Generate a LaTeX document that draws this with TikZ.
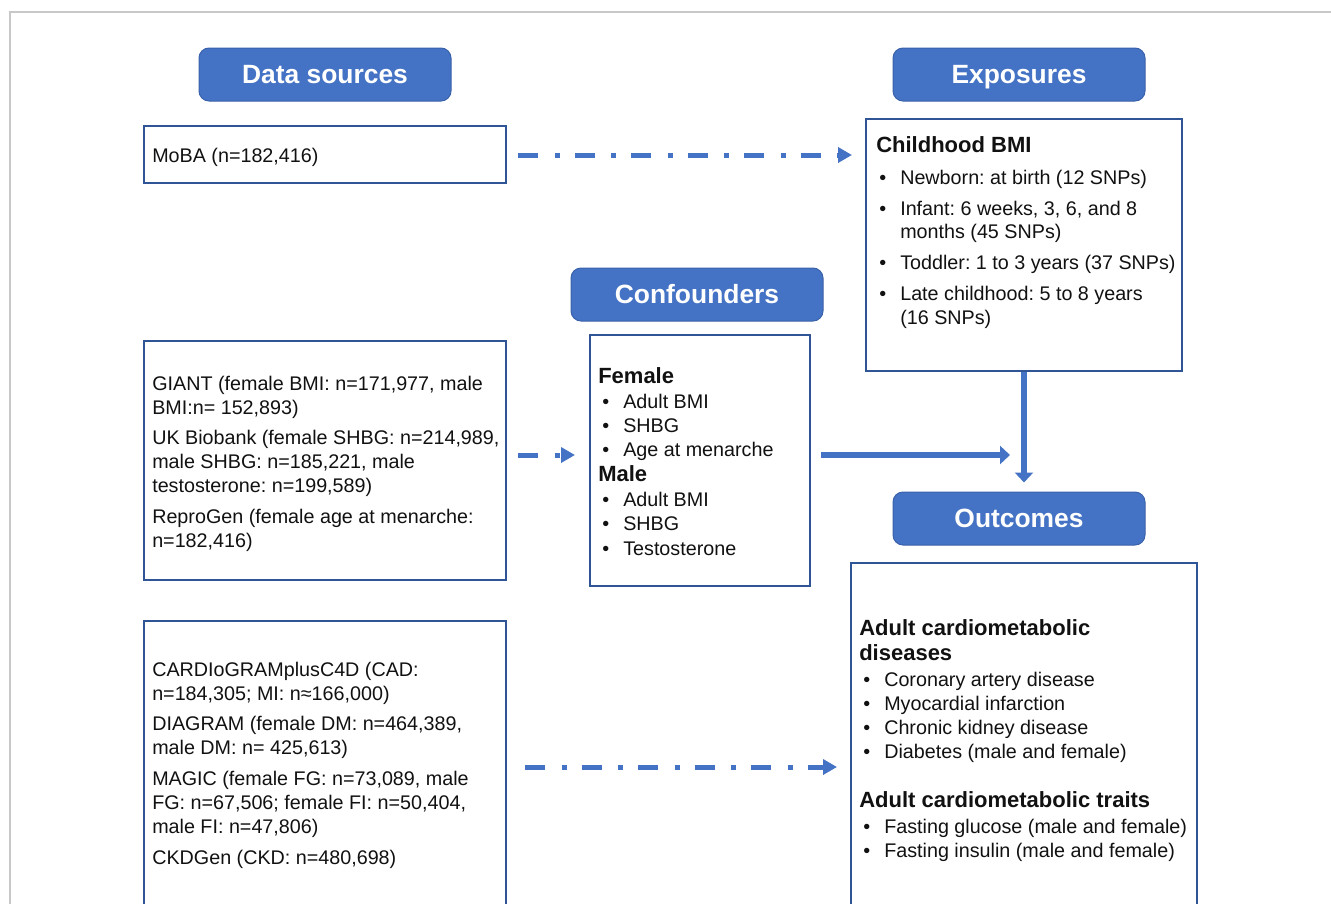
\documentclass[tikz,border=0pt]{standalone}
\usepackage{fontspec}
\setmainfont{Liberation Sans}
\usetikzlibrary{arrows.meta}
\definecolor{hblue}{HTML}{4472C4}
\definecolor{hdrb}{HTML}{3A62AA}
\definecolor{boxb}{HTML}{2F5597}
\definecolor{frameg}{HTML}{C8C8C8}
\definecolor{ink}{HTML}{111111}
\frenchspacing
\newcommand\lineat[4]{\node[txt,anchor=base west] (#1) at (#2,#3) {#4};}
\newcommand\headat[4]{\node[hd,anchor=base west] (#1) at (#2,#3) {#4};}
\newcommand\bulat[4]{\node[txt,anchor=base west] (#1b) at (#2,#3) {•};\node[txt,anchor=base west] (#1) at (#2+21,#3) {#4};}
\tikzset{
 hdr/.style={draw=hdrb, fill=hblue, rounded corners=7.5pt, minimum width=189pt, minimum height=39.75pt, text=white, font=\fontsize{19.8}{24}\selectfont\bfseries, line width=0.75pt, inner sep=0pt, text height=14.2pt, text depth=0pt},
 bx/.style={draw=boxb, line width=1.5pt, inner sep=0pt},
 txt/.style={inner sep=0pt, text=ink, font=\fontsize{14.8}{18}\selectfont},
 hd/.style={inner sep=0pt, text=ink, font=\fontsize{16.5}{20}\selectfont\bfseries},
 dda/.style={draw=hblue, line width=3.75pt, dash pattern=on 15pt off 12.4pt on 3.75pt off 11.25pt, -{Triangle[length=10.5pt,width=11.25pt]}},
 sa/.style={draw=hblue, line width=4.5pt, -{Triangle[length=7.5pt,width=13.5pt]}}
}
\begin{document}
\begin{tikzpicture}[x=0.75pt,y=-0.75pt]
\useasboundingbox (0,0) rectangle (1331,903);
\clip (0,0) rectangle (1331,903);
\draw[frameg, line width=1.1pt] (10,910) -- (10,12) -- (1340,12);
% headers
\node[hdr] (dsh) at (325,74.5) {Data sources};
\node[hdr] (exh) at (1019,74.5) {Exposures};
\node[hdr] (cfh) at (697,294.5) {Confounders};
\node[hdr] (outh) at (1019,518.5) {Outcomes};
% boxes
\node[bx, minimum width=271.5pt, minimum height=42.75pt] (moba) at (325,154.5) {};
\node[bx, minimum width=237pt, minimum height=189pt] (cbmi) at (1024,245) {};
\node[bx, minimum width=271.5pt, minimum height=179.25pt] (giant) at (325,460.5) {};
\node[bx, minimum width=165pt, minimum height=188.25pt] (conf) at (700,460.5) {};
\node[bx, minimum width=271.5pt, minimum height=216.75pt] (card) at (325,765.5) {};
\node[bx, minimum width=259.5pt, minimum height=260.25pt] (outc) at (1024,736.5) {};
% MoBA text
\lineat{m1}{152}{162}{MoBA (n=182,416)}
% GIANT box text
\lineat{g1}{152}{390}{GIANT (female BMI: n=171,977, male}
\lineat{g2}{152}{414}{BMI:n= 152,893)}
\lineat{g3}{152}{444}{UK Biobank (female SHBG: n=214,989,}
\lineat{g4}{152}{468}{male SHBG: n=185,221, male}
\lineat{g5}{152}{492}{testosterone: n=199,589)}
\lineat{g6}{152}{523}{ReproGen (female age at menarche:}
\lineat{g7}{152}{547}{n=182,416)}
% CARDIo box text
\lineat{c1}{152}{676}{CARDIoGRAMplusC4D (CAD:}
\lineat{c2}{152}{700}{n=184,305; MI: n≈166,000)}
\lineat{c3}{152}{730}{DIAGRAM (female DM: n=464,389,}
\lineat{c4}{152}{754}{male DM: n= 425,613)}
\lineat{c5}{152}{785}{MAGIC (female FG: n=73,089, male}
\lineat{c6}{152}{809}{FG: n=67,506; female FI: n=50,404,}
\lineat{c7}{152}{833}{male FI: n=47,806)}
\lineat{c8}{152}{864}{CKDGen (CKD: n=480,698)}
% Childhood BMI
\headat{e0}{876}{152}{Childhood BMI}
\bulat{e1}{879}{184}{Newborn: at birth (12 SNPs)}
\bulat{e2}{879}{215}{Infant: 6 weeks, 3, 6, and 8}
\lineat{e2b2}{900}{238}{months (45 SNPs)}
\bulat{e3}{879}{269}{Toddler: 1 to 3 years (37 SNPs)}
\bulat{e4}{879}{300}{Late childhood: 5 to 8 years}
\lineat{e4b2}{900}{324}{(16 SNPs)}
% Confounders
\headat{f0}{598}{383}{Female}
\bulat{f1}{602}{408}{Adult BMI}
\bulat{f2}{602}{432}{SHBG}
\bulat{f3}{602}{456}{Age at menarche}
\headat{f4}{598}{481}{Male}
\bulat{f5}{602}{506}{Adult BMI}
\bulat{f6}{602}{530}{SHBG}
\bulat{f7}{602}{555}{Testosterone}
% Outcomes
\headat{o0}{859}{635}{Adult cardiometabolic}
\headat{o0b}{859}{660}{diseases}
\bulat{o1}{863}{686}{Coronary artery disease}
\bulat{o2}{863}{710}{Myocardial infarction}
\bulat{o3}{863}{734}{Chronic kidney disease}
\bulat{o4}{863}{758}{Diabetes (male and female)}
\headat{o5}{859}{807}{Adult cardiometabolic traits}
\bulat{o6}{863}{833}{Fasting glucose (male and female)}
\bulat{o7}{863}{857}{Fasting insulin (male and female)}
% connectors
\coordinate (r1) at (0,155);
\coordinate (r2) at (0,455);
\coordinate (r3) at (0,767);
\coordinate (vmid) at (1024,455);
\draw[dda, shorten <=8.25pt, shorten >=9.75pt] (moba.east |- r1) -- (cbmi.west |- r1);
\draw[dda, shorten <=8.25pt, shorten >=10.5pt] (giant.east |- r2) -- (conf.west |- r2);
\draw[dda, shorten <=13.5pt, shorten >=9.75pt] (card.east |- r3) -- (outc.west |- r3);
\draw[sa, shorten >=6.75pt] (cbmi.south) -- (cbmi.south |- outh.north);
\draw[sa, shorten <=7.5pt, shorten >=10.5pt] (conf.east |- r2) -- (vmid);
\end{tikzpicture}
\end{document}
